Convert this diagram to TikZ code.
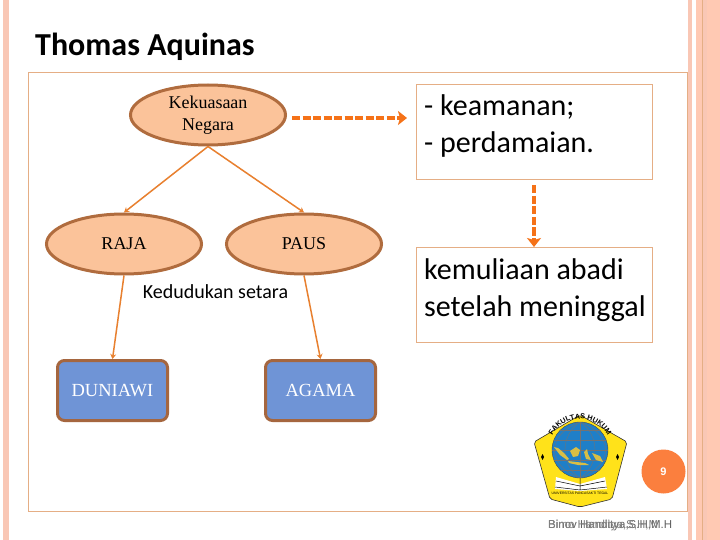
\documentclass[tikz,border=0pt]{standalone}
\usepackage{fontspec}
\setmainfont{Liberation Serif}
\newfontfamily\carl{Carlito}
\newfontfamily\arialike{Liberation Sans}
\usetikzlibrary{arrows.meta,decorations.text,calc,shapes.geometric}
\definecolor{pinkA}{HTML}{F9C7B5}
\definecolor{pinkB}{HTML}{FFC9B3}
\definecolor{frameC}{HTML}{E5AE85}
\definecolor{ovalF}{HTML}{FBC39A}
\definecolor{ovalD}{HTML}{B06C3E}
\definecolor{lineC}{HTML}{E8802F}
\definecolor{dashC}{HTML}{F57218}
\definecolor{blueF}{HTML}{6F94D6}
\definecolor{rectD}{HTML}{A5663F}
\definecolor{numC}{HTML}{FB7F3E}
\definecolor{logoY}{HTML}{FFE21A}
\definecolor{logoB}{HTML}{1F7FC8}
\definecolor{mapC}{HTML}{D9BE45}
\tikzset{
 x=1pt,y=-1pt,
 oval/.style={ellipse,draw=ovalD,line width=3pt,fill=ovalF,minimum width=155pt,minimum height=60pt,inner sep=0pt,align=center,font=\fontsize{18}{22}\selectfont},
 sq/.style={rectangle,rounded corners=7pt,draw=rectD,line width=3pt,fill=blueF,minimum width=110pt,minimum height=60pt,inner sep=0pt,text=white,font=\fontsize{18.5}{20}\selectfont},
 tbox/.style={rectangle,draw=frameC,line width=1pt,fill=white,minimum width=236pt,minimum height=95pt,inner sep=0pt},
 big/.style={inner sep=0pt,anchor=base west,font=\carl\fontsize{30}{36}\selectfont},
 conn/.style={draw=lineC,line width=1.5pt,-{Stealth[length=5pt,width=6pt]}},
 dashline/.style={draw=dashC,line width=3.2pt,dash pattern=on 8pt off 2.5pt,-{Stealth[length=9pt,width=14pt,inset=2pt]}},
 foot/.style={inner sep=0pt,anchor=base west,text=black!62,font=\arialike\fontsize{11.5}{14}\selectfont},
}
\begin{document}
\begin{tikzpicture}
\useasboundingbox (0,0) rectangle (720,540);
\fill[white] (0,0) rectangle (720,540);
% side stripes
\fill[pinkA] (3,0) rectangle (9,540);
\fill[pinkA] (688,0) rectangle (692,540);
\fill[pinkB] (696,0) rectangle (702,540);
\fill[frameC] (702,0) rectangle (703,540);
\fill[pinkA] (703,0) rectangle (707,540);
\fill[pinkB] (707,0) rectangle (720,540);
% frame
\draw[frameC,line width=1pt] (28,73) rectangle (687,511);
\node[inner sep=0pt,anchor=base west,font=\carl\bfseries\fontsize{32}{36}\selectfont] (title) at (35,56) {Thomas Aquinas};
% nodes
\node[oval] (kek) at (208,115) {\raisebox{-3pt}{Kekuasaan}\\\raisebox{-3pt}{Negara}};
\node[oval] (raja) at (124,244) {\raisebox{-1pt}{RAJA}};
\node[oval] (paus) at (304,244) {\raisebox{-1pt}{PAUS}};
\node[sq] (dun) at (112.5,390.5) {\raisebox{-1pt}{DUNIAWI}};
\node[sq] (aga) at (320.5,390.5) {\raisebox{-1pt}{AGAMA}};
\node[tbox] (b1) at (534,132.5) {};
\node[tbox] (b2) at (534,295) {};
\node[big] (t1) at (424,116) {- keamanan;};
\node[big] (t2) at (424,153) {- perdamaian.};
\node[big] (t3) at (424,279) {kemuliaan abadi};
\node[big] (t4) at (424,316) {setelah meninggal};
\node[inner sep=0pt,font=\carl\fontsize{20}{24}\selectfont] (ked) at (215.5,292) {Kedudukan setara};
% connectors
\draw[conn] (kek.south) -- (raja.north);
\draw[conn] (kek.south) -- (paus.north);
\draw[conn] (raja.south) -- (dun.north);
\draw[conn] (paus.south) -- (aga.north);
\coordinate (d1) at (292,118);
\coordinate (d2) at (407,118);
\draw[dashline] (d1) -- (d2);
\draw[dashline,shorten <=5pt] (b1.south) -- (b2.north);
% logo
\begin{scope}
\draw[black!80,line width=.6pt,fill=logoY,line join=round,rounded corners=2pt]
  (580,415) -- (627,442) -- (612,499) -- (580,507) -- (550,499) -- (534,442) -- cycle;
\fill[white] (556,477) -- (580,484) -- (605,477) -- (607,489) -- (580,491) -- (555,489) -- cycle;
\draw[black,line width=.5pt] (556,481) -- (580,486) -- (605,481) (580,478) -- (580,490) (555,487) -- (580,490) -- (607,487);
\fill[logoB,draw=black!70,line width=.4pt] (580,450) circle (28);
\begin{scope}
\clip (580,450) circle (28);
\draw[black!55,line width=.35pt] (552,440) -- (608,440) (552,450) -- (608,450) (552,460) -- (608,460) (555,430) -- (605,430) (558,470) -- (602,470);
\draw[black!55,line width=.35pt] (580,422) -- (580,478);
\draw[black!55,line width=.35pt] (580,422) .. controls (560,435) and (560,465) .. (580,478);
\draw[black!55,line width=.35pt] (580,422) .. controls (600,435) and (600,465) .. (580,478);
\draw[black!55,line width=.35pt] (580,422) .. controls (546,435) and (546,465) .. (580,478);
\draw[black!55,line width=.35pt] (580,422) .. controls (614,435) and (614,465) .. (580,478);
\fill[mapC] (554,447) -- (558,448) -- (564,453) -- (569,459) -- (567,460) -- (560,455) -- cycle;
\fill[mapC] (568,461) -- (585,463) -- (589,465) -- (578,465) -- (569,463) -- cycle;
\fill[mapC] (570,451) -- (576,447) -- (580,450) -- (578,456) -- (573,457) -- cycle;
\fill[mapC] (584,452) -- (587,449) -- (588,454) -- (591,460) -- (586,459) -- cycle;
\fill[mapC] (592,453) -- (600,456) -- (603,462) -- (596,460) -- cycle;
\end{scope}
\fill[black] (541,457) -- (542.5,454) -- (544,457) -- (542.5,460) -- cycle;
\fill[black] (616,457) -- (617.5,454) -- (619,457) -- (617.5,460) -- cycle;
\path[decorate,decoration={text along path,text align=center,
  text={|\arialike\bfseries\fontsize{7.2}{8}\selectfont|FAKULTAS HUKUM}}]
  (549,450) arc[start angle=180,end angle=360,radius=31];
\node[inner sep=0pt,font=\arialike\fontsize{3.4}{4}\selectfont] (logobase) at (580,493.5) {UNIVERSITAS PANCASAKTI TEGAL};
\end{scope}
% page number
\node[circle,fill=numC,minimum size=44pt,inner sep=0pt,text=white,font=\arialike\bfseries\fontsize{11}{13}\selectfont] (num) at (663.5,471.5) {9};
% footer (two overlapping texts)
\node[foot] (f1) at (548,528) {Binov Handitya,S.H,M.H};
\node[foot,text=black!50] (f2) at (548,528) {Bimo Handitya,S,H,M};
\end{tikzpicture}
\end{document}
